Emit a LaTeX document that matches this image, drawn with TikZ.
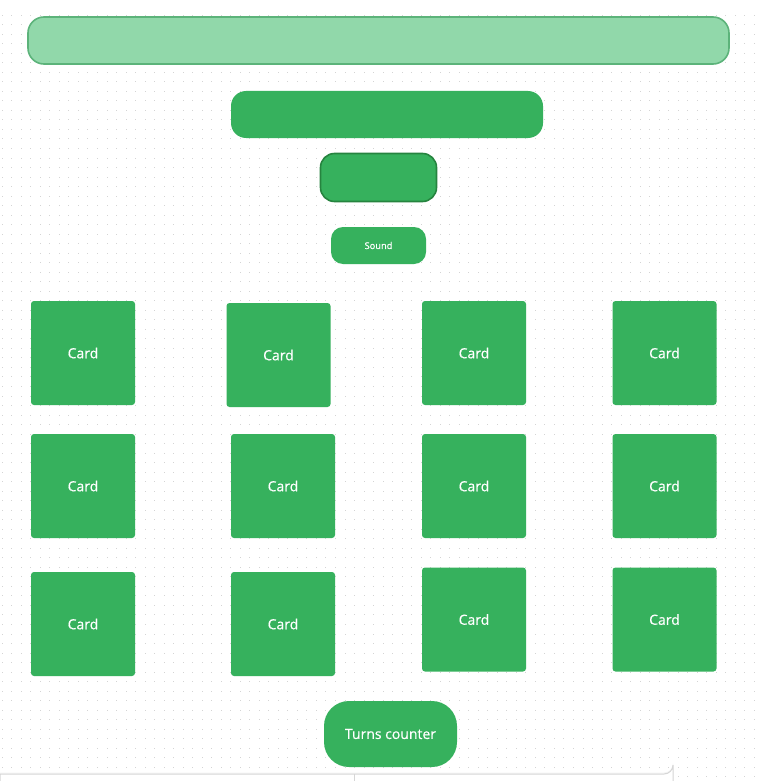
\documentclass[tikz,border=0pt]{standalone}
\usepackage{fontspec}
\setmainfont[FakeBold=0.5]{Open Sans}
\definecolor{cardgreen}{HTML}{36B15D}
\definecolor{barfill}{HTML}{91D8AA}
\definecolor{barline}{HTML}{5CB37A}
\definecolor{darkline}{HTML}{26843F}
\definecolor{dotgray}{HTML}{D4D4D4}
\definecolor{panelline}{HTML}{D6D6D6}
\tikzset{
  box/.style={fill=cardgreen, draw=none, inner sep=0pt, text=white, font=\fontsize{14}{16}\selectfont},
  cardbox/.style={box, minimum width=104pt, minimum height=104pt, rounded corners=3pt},
}
\begin{document}
\begin{tikzpicture}[x=1pt,y=-1pt]
\useasboundingbox (0,0) rectangle (762,781);
\fill[white] (0,0) rectangle (762,781);
% dotted grid
\foreach \i in {0,...,80}{
  \foreach \j in {0,...,80}{
    \fill[dotgray] ({2.3+9.52*\i-0.5},{15.2+9.52*\j-0.5}) rectangle ++(1,1);
  }
}
% top bar
\node[box, fill=barfill, draw=barline, line width=1.6pt, minimum width=701pt, minimum height=47pt, rounded corners=16pt] (bar) at (378.5,40.5) {};
\node[box, minimum width=312pt, minimum height=47pt, rounded corners=15pt] (title) at (387,114.5) {};
\node[box, draw=darkline, line width=1.6pt, minimum width=116pt, minimum height=48pt, rounded corners=14pt] (btn) at (378.5,177.5) {};
\node[box, minimum width=95pt, minimum height=37pt, rounded corners=12pt, font=\fontsize{9.3}{11}\selectfont] (sound) at (378.5,245.5) {Sound};
% cards
\node[cardbox] (c11) at (83,353) {Card};
\node[cardbox] (c12) at (278.5,355) {Card};
\node[cardbox] (c13) at (474,353) {Card};
\node[cardbox] (c14) at (664.5,353) {Card};
\node[cardbox] (c21) at (83,486) {Card};
\node[cardbox] (c22) at (283,486) {Card};
\node[cardbox] (c23) at (474,486) {Card};
\node[cardbox] (c24) at (664.5,486) {Card};
\node[cardbox] (c31) at (83,624) {Card};
\node[cardbox] (c32) at (283,624) {Card};
\node[cardbox] (c33) at (474,619.5) {Card};
\node[cardbox] (c34) at (664.5,619.5) {Card};
\node[box, minimum width=133pt, minimum height=66pt, rounded corners=25pt] (turns) at (390.5,734) {Turns counter};
% bottom panel
\fill[black!4] (0,772.5) -- (664,772.5) arc[start angle=90, end angle=0, radius=9] -- (673,781) -- (0,781) -- cycle;
\fill[white, draw=panelline, line width=1pt] (0,774) -- (664,774) arc[start angle=90, end angle=0, radius=9] -- (673,783) -- (0,783) -- cycle;
\draw[panelline, line width=1pt] (354,774) -- (354,781);
\end{tikzpicture}
\end{document}
